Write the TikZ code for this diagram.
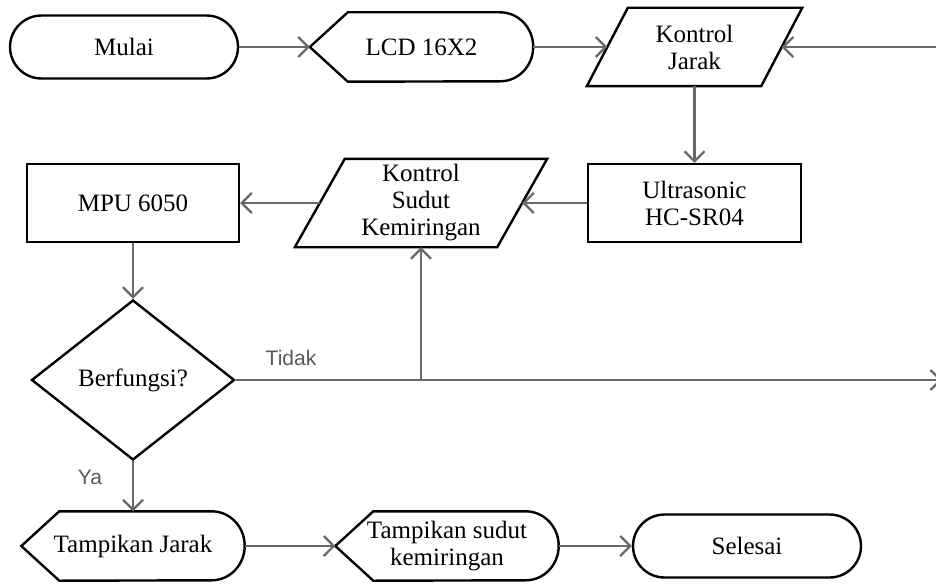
\documentclass[tikz,border=0pt]{standalone}
\usepackage{fontspec}
\setmainfont{Liberation Serif}
\setsansfont{Liberation Sans}
\usetikzlibrary{positioning,arrows.meta,calc,shapes.geometric,shapes.misc}
\definecolor{fcLine}{RGB}{105,105,105}
\definecolor{fcText}{RGB}{90,90,90}
\tikzset{
    base/.style={font=\fontsize{25}{27}\selectfont, align=center, inner sep=0pt},
    terminal/.style={base, rounded rectangle, draw, line width=2.4pt,
                     minimum width=228pt, minimum height=63pt},
    process/.style={base, rectangle, draw, line width=2.4pt,
                    minimum width=212pt, minimum height=78pt},
    decision/.style={base, diamond, aspect=1.27, draw, line width=2.4pt,
                     minimum width=203pt, minimum height=160pt},
    display/.style={base, minimum width=223pt, minimum height=69pt},
    iobox/.style={base},
    outline/.style={line width=2.4pt, line join=miter},
    flow/.style={-{Straight Barb[length=10pt,width=20pt]}, line width=2.2pt, color=fcLine},
    branch/.style={font=\sffamily\fontsize{21}{24}\selectfont, text=fcText, inner sep=0pt}
}
% outline of a display node (pointed left, round right)
\newcommand{\displayline}[1]{%
  \draw[outline] (#1.west) -- ([xshift=38pt]#1.north west)
    -- ([xshift=-33pt]#1.north east)
    arc[start angle=90, end angle=-90, x radius=33pt, y radius=34.5pt]
    -- ([xshift=38pt]#1.south west) -- cycle;}
% outline of an input/output node (parallelogram)
\newcommand{\inputline}[2]{%
  \draw[outline] ([xshift=#2]#1.north west) -- (#1.north east)
    -- ([xshift=-#2]#1.south east) -- (#1.south west) -- cycle;}

\begin{document}
\begin{tikzpicture}[x=1pt,y=-1pt]
  \useasboundingbox (0,0) rectangle (936,583);

  % Top row
  \node[terminal] (mulai) at (124,47) {Mulai};
  \node[display] (lcd) at (421.5,47) {LCD 16X2};
  \displayline{lcd}
  \node[iobox, minimum width=215pt, minimum height=78pt] (kj) at (694.5,47) {Kontrol\\Jarak};
  \inputline{kj}{41pt}
  \coordinate (kjin) at (940,47);

  % Middle row
  \node[process] (mpu) at (133,203) {MPU 6050};
  \node[iobox, minimum width=252pt, minimum height=88pt] (ks) at (421,203) {Kontrol\\Sudut\\Kemiringan};
  \inputline{ks}{50pt}
  \node[process, minimum width=213pt] (us) at (694.5,203) {Ultrasonic\\HC-SR04};

  % Decision
  \node[decision] (dia) at (133,380) {Berfungsi?};
  \coordinate (tidakend) at (942,380);
  \node[branch] (tidak) at (291,358) {Tidak};
  \node[branch] (ya) at (90,477) {Ya};

  % Bottom row
  \node[display] (tj) at (133,546) {Tampikan Jarak};
  \displayline{tj}
  \node[display] (ts) at (447,546) {Tampikan sudut\\kemiringan};
  \displayline{ts}
  \node[terminal] (selesai) at (747,546) {Selesai};

  % Connectors
  \draw[flow] (mulai.east) -- (lcd.west);
  \draw[flow] (lcd.east) -- ([xshift=20.5pt]kj.west);
  \draw[flow] (kjin) -- ([xshift=-20.5pt]kj.east);
  \draw[flow] (kj.south) -- (us.north);
  \draw[flow] (us.west) -- ([xshift=-25pt]ks.east);
  \draw[flow] ([xshift=25pt]ks.west) -- (mpu.east);
  \draw[flow] (mpu.south) -- (dia.north);
  \draw[flow] (dia.east) -- (tidakend);
  \draw[flow] (dia.east -| ks.south) -- (ks.south);
  \draw[flow] (dia.south) -- (tj.north);
  \draw[flow] (tj.east) -- (ts.west);
  \draw[flow] (ts.east) -- (selesai.west);
\end{tikzpicture}
\end{document}
